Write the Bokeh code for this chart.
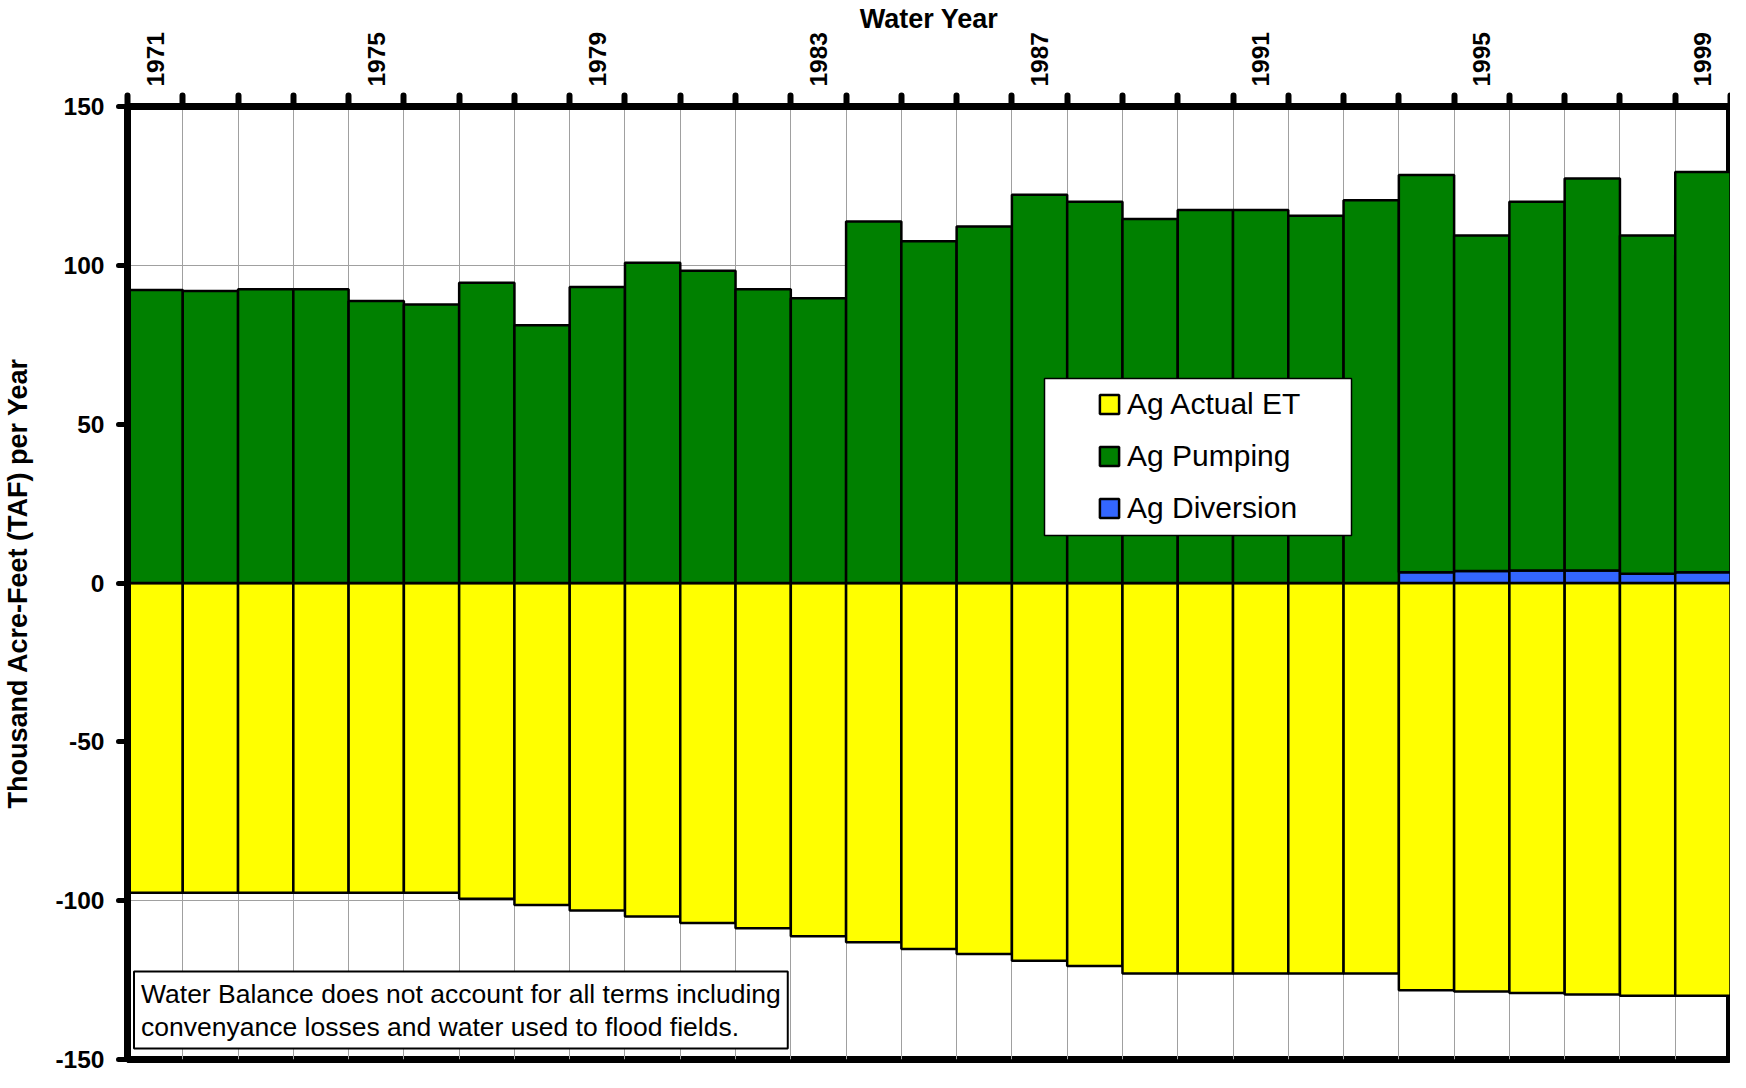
from bokeh.plotting import figure
from bokeh.models import (FixedTicker, Legend, LegendItem, BoxAnnotation, Label,
                          ColumnDataSource)
from bokeh.embed import file_html
from bokeh.resources import INLINE

# ---------------- data ----------------
years = list(range(1971, 2000))
ag_actual_et = [97.5, 97.5, 97.5, 97.5, 97.5, 97.5, 99.4, 101.4, 103.1, 105.0,
                107.0, 108.7, 111.2, 113.1, 115.2, 116.8, 118.9, 120.6, 122.9, 122.9,
                122.9, 122.9, 122.9, 128.2, 128.6, 129.1, 129.5, 129.9, 129.9]
ag_diversion = [0, 0, 0, 0, 0, 0, 0, 0, 0, 0,
                0, 0, 0, 0, 0, 0, 0, 0, 0, 0,
                0, 0, 0, 3.4, 3.8, 3.9, 3.9, 2.9, 3.4]
ag_pumping = [92.2, 91.9, 92.5, 92.5, 88.8, 87.7, 94.5, 81.1, 93.2, 100.8,
              98.3, 92.5, 89.6, 113.8, 107.6, 112.2, 122.2, 120.0, 114.6, 117.4,
              117.4, 115.6, 120.5, 125.0, 105.6, 116.1, 123.4, 106.5, 126.0]
label_years = [1971, 1975, 1979, 1983, 1987, 1991, 1995, 1999]
y_ticks = [-150, -100, -50, 0, 50, 100, 150]
y_tick_labels = ["-150", "-100", "-50", "0", "50", "100", "150"]
series_names = ["Ag Actual ET", "Ag Pumping", "Ag Diversion"]
note_text = ("Water Balance does not account for all terms including\n"
             "convenyance losses and water used to flood fields.")

# derived stacking
et_neg = [-v for v in ag_actual_et]
pump_top = [d + p for d, p in zip(ag_diversion, ag_pumping)]
boundaries = [y - 0.5 for y in years] + [years[-1] + 0.5]

src = ColumnDataSource(dict(year=years, et_neg=et_neg, zero=[0] * len(years),
                            div=ag_diversion, pump_top=pump_top))

FONT = "Liberation Sans"

p = figure(width=1730, height=1072,
           x_range=(boundaries[0], boundaries[-1]), y_range=(-150, 150),
           x_axis_location="above", toolbar_location=None, output_backend="svg",
           min_border_left=120, min_border_top=98, min_border_right=0,
           min_border_bottom=13)

p.background_fill_color = "white"
p.border_fill_color = "white"
p.outline_line_color = "black"
p.outline_line_width = 7

# ---------------- x axis (top) ----------------
xt = FixedTicker(ticks=label_years, minor_ticks=boundaries)
xa = p.xaxis[0]
xa.ticker = xt
xa.axis_line_color = "black"
xa.axis_line_width = 7
xa.major_tick_line_color = None
xa.major_tick_out = 11
xa.major_tick_in = 0
xa.minor_tick_line_color = "black"
xa.minor_tick_line_width = 6
xa.minor_tick_line_cap = "round"
xa.minor_tick_out = 11
xa.minor_tick_in = 0
xa.major_label_orientation = "vertical"
xa.major_label_standoff = 9
xa.major_label_text_font = FONT
xa.major_label_text_font_style = "bold"
xa.major_label_text_font_size = "24.5px"
xa.major_label_text_color = "black"
xa.axis_label = "Water Year"
xa.axis_label_text_font = FONT
xa.axis_label_text_font_style = "bold"
xa.axis_label_text_font_size = "27px"
xa.axis_label_text_color = "black"
xa.axis_label_standoff = -5

p.xgrid.ticker = xt
p.xgrid.grid_line_color = None
p.xgrid.minor_grid_line_color = "#a0a0a0"
p.xgrid.minor_grid_line_width = 1

# ---------------- y axis ----------------
ya = p.yaxis[0]
ya.ticker = FixedTicker(ticks=y_ticks)
ya.major_label_overrides = {t: s for t, s in zip(y_ticks, y_tick_labels)}
ya.axis_line_color = "black"
ya.axis_line_width = 7
ya.major_tick_line_color = "black"
ya.major_tick_line_width = 5
ya.major_tick_line_cap = "round"
ya.major_tick_out = 9
ya.major_tick_in = 0
ya.minor_tick_line_color = None
ya.major_label_standoff = 14
ya.major_label_text_font = FONT
ya.major_label_text_font_style = "bold"
ya.major_label_text_font_size = "24.5px"
ya.major_label_text_color = "black"
ya.axis_label = "Thousand Acre-Feet (TAF) per Year"
ya.axis_label_text_font = FONT
ya.axis_label_text_font_style = "bold"
ya.axis_label_text_font_size = "27px"
ya.axis_label_text_color = "black"
ya.axis_label_standoff = 19

p.ygrid.ticker = ya.ticker
p.ygrid.grid_line_color = "#a0a0a0"
p.ygrid.grid_line_width = 1

# ---------------- bars ----------------
BAR_LINE = dict(line_color="black", line_width=2.5)
r_et = p.vbar(x="year", width=1, top="zero", bottom="et_neg", source=src,
              fill_color="#FFFF00", **BAR_LINE)
r_div = p.vbar(x="year", width=1, top="div", bottom="zero", source=src,
               fill_color="#3366FF", **BAR_LINE)
r_pump = p.vbar(x="year", width=1, top="pump_top", bottom="div", source=src,
                fill_color="#008000", **BAR_LINE)

# ---------------- legend ----------------
box = BoxAnnotation(left=917, right=1224, bottom=524, top=681,
                    left_units="screen", right_units="screen",
                    top_units="screen", bottom_units="screen",
                    fill_color="white", fill_alpha=1.0,
                    line_color="black", line_width=1.5, line_alpha=1.0)
p.add_layout(box)

legend = Legend(items=[LegendItem(label=series_names[0], renderers=[r_et]),
                       LegendItem(label=series_names[1], renderers=[r_pump]),
                       LegendItem(label=series_names[2], renderers=[r_div])],
                location=(970, 534), padding=10, spacing=18,
                glyph_width=24, glyph_height=24, label_height=34,
                label_standoff=6, border_line_color=None,
                background_fill_alpha=0.0,
                label_text_font=FONT, label_text_font_size="30px",
                label_text_color="black")
p.add_layout(legend)

# ---------------- note ----------------
note = Label(x=6.5, y=11, x_units="screen", y_units="screen", text=note_text,
             text_font=FONT, text_font_size="26.5px", text_color="black",
             text_align="left", text_baseline="bottom", text_line_height=1.1,
             padding=7, border_line_color="black", border_line_width=2,
             background_fill_color="white", background_fill_alpha=1.0)
p.add_layout(note)

open("out.html", "w").write(file_html(p, INLINE))
